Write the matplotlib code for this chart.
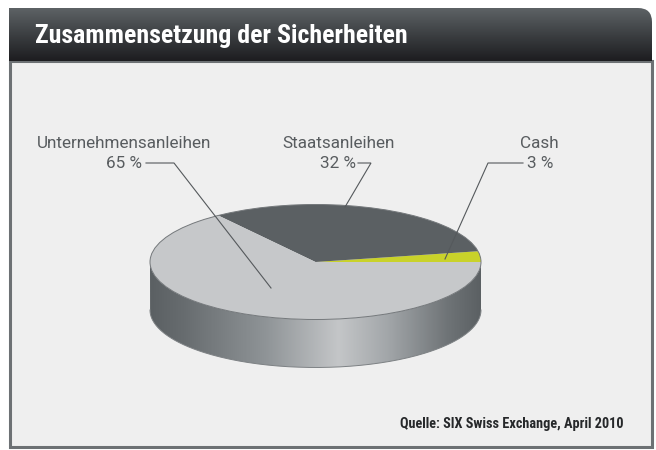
import numpy as np
import matplotlib
matplotlib.use('Agg')
import matplotlib.pyplot as plt
from matplotlib.patches import Wedge, Rectangle, PathPatch, Ellipse
from matplotlib.path import Path
from matplotlib.colors import LinearSegmentedColormap
from matplotlib.transforms import Affine2D

title = 'Zusammensetzung der Sicherheiten'
source = 'Quelle: SIX Swiss Exchange, April 2010'
# counter clockwise from 3 o'clock
labels = ['Cash', 'Staatsanleihen', 'Unternehmensanleihen']
values = [3, 32, 65]
slice_colors = ['#c9d22a', '#5b6063', '#c6c8ca']

font = ['Roboto Condensed', 'Roboto', 'DejaVu Sans']
label_font = ['Roboto', 'DejaVu Sans']
bg = '#efefef'
edge = '#6d7174'

fig = plt.figure(figsize=(6.56, 4.5), dpi=100, facecolor='white')
ax = fig.add_axes([0, 0, 1, 1])
ax.set_xlim(0, 656)
ax.set_ylim(450, 0)
ax.axis('off')

# panel
ax.add_patch(Rectangle((10, 61), 641.5, 385.5, fc=bg, ec=edge, lw=2.2, zorder=1))

# header with gradient and one rounded corner
hl, hr, ht, hb, r = 9, 652, 8, 61, 14
header = Path([(hl, hb), (hl, ht), (hr - r, ht), (hr, ht), (hr, ht + r), (hr, hb), (hl, hb)],
              [Path.MOVETO, Path.LINETO, Path.LINETO, Path.CURVE3, Path.CURVE3, Path.LINETO, Path.CLOSEPOLY])
head_cmap = LinearSegmentedColormap.from_list('head', ['#5d6265', '#3c3f42', '#1d1d20'])
im = ax.imshow(np.linspace(0, 1, 64).reshape(-1, 1), extent=(hl, hr, hb, ht), cmap=head_cmap,
               aspect='auto', zorder=2)
im.set_clip_path(PathPatch(header, transform=ax.transData))
ax.set_xlim(0, 656)
ax.set_ylim(450, 0)
ax.text(35, 36, title, family=font, fontsize=18.6, fontweight='bold', color='white', va='center', zorder=5)

# pie
cx, cy, a, b, depth = 315.5, 262, 165.5, 57.5, 48
pie_tf = Affine2D().scale(a, -b).translate(cx, cy) + ax.transData

t = np.linspace(0, np.pi, 200)
xs = a * np.cos(t)
side = Path(np.vstack([np.column_stack([cx + xs, cy + b * np.sin(t)]),
                       np.column_stack([cx + xs[::-1], cy + depth + b * np.sin(t[::-1])])]))
side_cmap = LinearSegmentedColormap.from_list(
    'side', [(0, '#5b6063'), (0.1, '#676c6f'), (0.35, '#8f9497'), (0.57, '#c4c6c8'),
             (0.72, '#a2a6a9'), (0.9, '#6f7477'), (1, '#5b6063')])
im2 = ax.imshow(np.linspace(0, 1, 256).reshape(1, -1), extent=(cx - a, cx + a, cy + b + depth, cy),
                cmap=side_cmap, aspect='auto', zorder=3)
im2.set_clip_path(PathPatch(side, transform=ax.transData))
ax.set_xlim(0, 656)
ax.set_ylim(450, 0)
ax.plot(cx + xs, cy + depth + b * np.sin(t), color='#7d8184', lw=0.7, zorder=4)

start = 0
for v, col in zip(values, slice_colors):
    end = start + v / sum(values) * 360
    ax.add_patch(Wedge((0, 0), 1, start, end, fc=col, ec='none', transform=pie_tf, zorder=4))
    start = end
ax.add_patch(Ellipse((0, 0), 2, 2, fc='none', ec='#74787b', lw=0.7, transform=pie_tf, zorder=4))

# labels
txt = dict(family=label_font, fontsize=12.3, color='#585c5f', ha='center', va='center', zorder=6)
ax.text(124, 143, labels[2], **txt)
ax.text(338.5, 143, labels[1], **txt)
ax.text(539.5, 143, labels[0], **txt)
ax.text(124.5, 164, '%d %%' % values[2], **txt)
ax.text(338, 164, '%d %%' % values[1], **txt)
ax.text(540, 164, '%d %%' % values[0], **txt)

# leader lines
lk = dict(color='#55595c', lw=0.8, zorder=5, solid_joinstyle='miter')
ax.plot([146, 174, 271], [163, 163, 288], **lk)
ax.plot([358, 371, 345], [163, 163, 207], **lk)
ax.plot([523, 488, 445], [163, 163, 259], **lk)

ax.text(624, 424, source, family=font, fontsize=10.3, fontweight='bold', color='#26282a', ha='right', va='center', zorder=6)

fig.savefig('out.png', dpi=100)
